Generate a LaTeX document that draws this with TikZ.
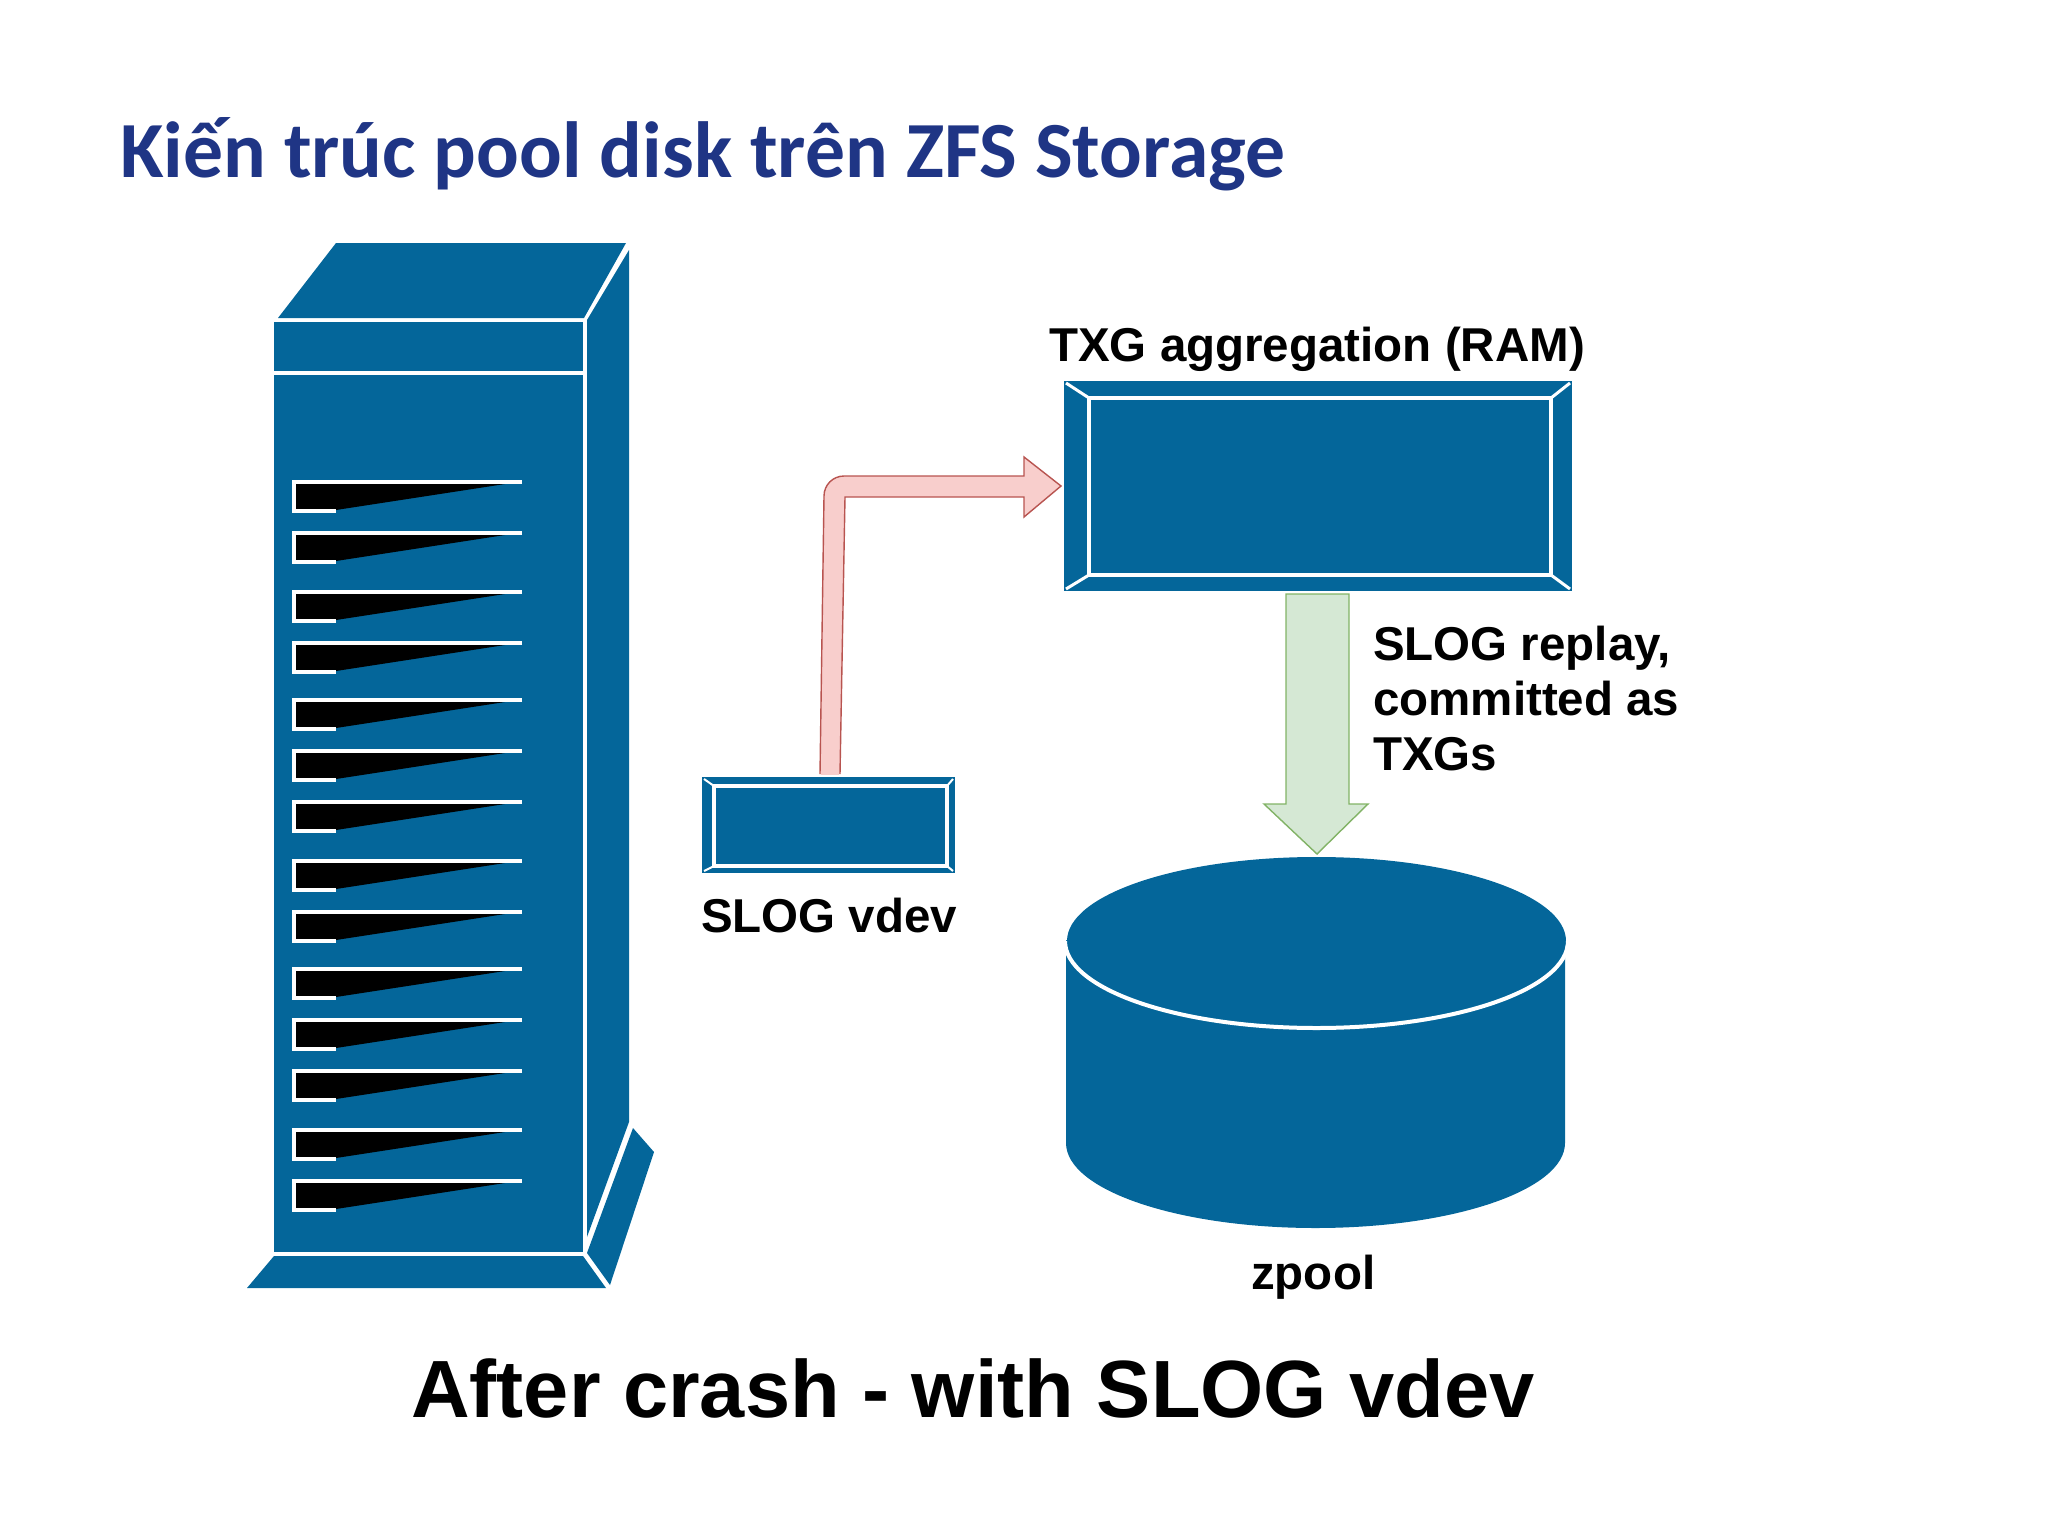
\documentclass[tikz,border=0pt]{standalone}
\usepackage{fontspec}
\setmainfont{Liberation Sans}
\newfontfamily\titlefont{Carlito}
\definecolor{zblue}{HTML}{04669A}
\definecolor{ztitle}{HTML}{1F3585}
\definecolor{pinkfill}{HTML}{F8CECC}
\definecolor{pinkline}{HTML}{B85450}
\definecolor{greenfill}{HTML}{D5E8D4}
\definecolor{greenline}{HTML}{82B366}
\tikzset{
  solid blue/.style={fill=zblue,draw=none},
  white edge/.style={draw=white,line width=4pt},
  label text/.style={font=\bfseries\fontsize{47.5}{55}\selectfont,text=black,inner sep=0pt,anchor=base west,align=left},
  slot/.pic={
    \fill[black] (2,2) -- (211,2) -- (42,28) -- (2,28) -- cycle;
    \draw[white edge,line cap=butt] (228,0) -- (0,0) -- (0,29) -- (42,29);
  }
}
\begin{document}
\begin{tikzpicture}[x=1pt,y=-1pt]
\useasboundingbox (0,0) rectangle (2048,1536);
% tower
\fill[solid blue] (336,243) -- (626,243) -- (584,318) -- (278,318) -- cycle;
\fill[solid blue] (274,322) rectangle (583,1252);
\fill[solid blue] (629,250) -- (629,1122) -- (587,1237) -- (587,320) -- cycle;
\fill[solid blue] (274,1256) -- (583,1256) -- (606,1288) -- (247,1288) -- cycle;
\fill[solid blue] (633,1128) -- (654,1152) -- (610,1285) -- (587,1253) -- cycle;
\draw[white edge] (274,373) -- (584,373);
\foreach \sy in {482,533,592,643,700,751,802,861,912,969,1020,1071,1130,1181}
  \pic at (294,\sy) {slot};
% RAM box
\fill[solid blue] (1064,381) rectangle (1572,591);
\draw[white edge] (1089,398) rectangle (1551,575);
\draw[white edge,line width=3pt] (1066,383) -- (1089,398) (1570,383) -- (1551,398) (1066,589) -- (1089,575) (1570,589) -- (1551,575);
% SLOG box
\fill[solid blue] (702,777) rectangle (955,873);
\draw[white edge,line width=3.5pt] (714,786) rectangle (947,866);
\draw[white edge,line width=2pt] (704,779) -- (714,786) (953,779) -- (947,786) (704,871) -- (714,866) (953,871) -- (947,866);
% pink arrow
\draw[pinkline,fill=pinkfill,line width=1.4pt] (820,774) -- (824,496) to[out=90,in=180] (844,476) -- (1024,476) -- (1024,457) -- (1061,486) -- (1024,517) -- (1024,497) -- (845,497) -- (840,774);
\fill[pinkfill] (821,775) rectangle (839,772);
% green arrow
\draw[greenline,fill=greenfill,line width=1.4pt] (1286,594) -- (1349,594) -- (1349,804) -- (1368,804) -- (1317,854) -- (1264,804) -- (1286,804) -- cycle;
% cylinder
\fill[solid blue] (1066,940) -- (1066,1143) arc[x radius=249.5,y radius=85,start angle=180,end angle=0] -- (1565,940) -- cycle;
\fill[solid blue] (1316.5,941) ellipse[x radius=249.5,y radius=84];
\draw[white edge] (1065,941) arc[x radius=251.5,y radius=87,start angle=180,end angle=0];
% texts
\node[font=\titlefont\bfseries\fontsize{79.6}{90}\selectfont,text=ztitle,inner sep=0pt,anchor=base west] (title) at (120,178) {Kiến trúc pool disk trên ZFS Storage};
\node[label text] (ramlabel) at (1049,361) {TXG aggregation (RAM)};
\node[label text] (sloglabel) at (701,932) {SLOG vdev};
\node[label text,anchor=north west] (replaylabel) at (1373,626) {SLOG replay,\\committed as\\TXGs};
\node[label text] (zpoollabel) at (1251,1289) {zpool};
\node[font=\bfseries\fontsize{81.2}{98}\selectfont,text=black,inner sep=0pt,anchor=base west] (caption) at (411,1417) {After crash - with SLOG vdev};
\end{tikzpicture}
\end{document}
